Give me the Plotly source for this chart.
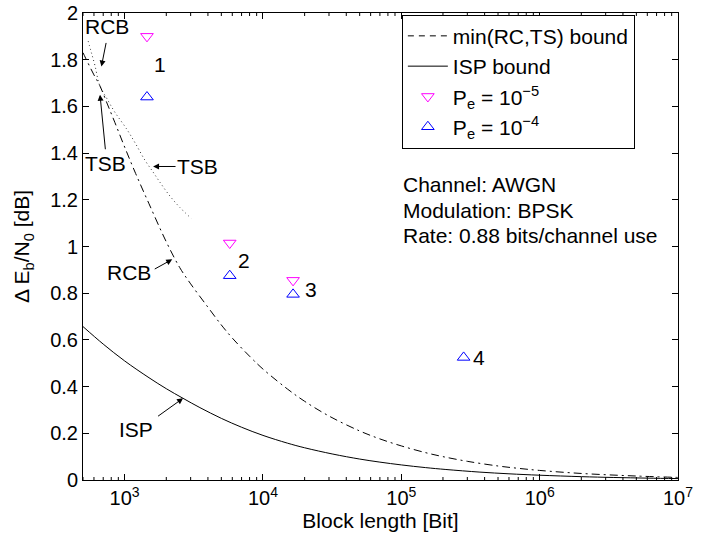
import numpy as np
import plotly.graph_objects as go

# ---------------- data ----------------
# min(RC,TS) bound (dash-dot)
n_min = [500, 522, 560, 600, 660, 750, 850, 1000, 1200, 1500, 2000, 2500, 3000, 4000,
         5000, 6000, 8000, 1e4, 1.5e4, 2e4, 3e4, 5e4, 7e4, 1e5, 1.5e5, 2e5, 3e5,
         5e5, 7e5, 1e6, 2e6, 5e6, 1e7]
db_min = [1.83, 1.807, 1.77, 1.735, 1.69, 1.61, 1.531, 1.426, 1.313, 1.183, 1.02, 0.91,
          0.84, 0.74, 0.664, 0.608, 0.53, 0.475, 0.39, 0.337, 0.274, 0.21, 0.176,
          0.146, 0.117, 0.10, 0.08, 0.06, 0.05, 0.041, 0.028, 0.017, 0.011]

# the larger of the two bounds (dotted), small block lengths only
n_max = [545, 575, 610, 660, 750, 850, 1029, 1200, 1400, 1600, 1800, 2100, 2500, 3033]
db_max = [1.88, 1.83, 1.775, 1.69, 1.63, 1.575, 1.505, 1.44, 1.37, 1.32, 1.275, 1.22,
          1.168, 1.12]

# ISP bound (solid)
n_isp = [500, 700, 1000, 1500, 2000, 2640, 3500, 5000, 7000, 1e4, 1.5e4, 2e4, 3.2e4,
         5e4, 7e4, 1e5, 1.5e5, 2.1e5, 3.7e5, 6e5, 1e6, 2e6, 3.4e6, 6e6, 1e7]
db_isp = [0.657, 0.582, 0.51, 0.438, 0.391, 0.35, 0.31, 0.264, 0.226, 0.191, 0.158, 0.138,
          0.111, 0.0897, 0.0766, 0.0646, 0.053, 0.045, 0.0338, 0.0265, 0.0205, 0.0143,
          0.0108, 0.008, 0.0061]

# simulated codes
n_pe5 = [1450, 5750, 16500]
db_pe5 = [1.90, 1.015, 0.855]
n_pe4 = [1450, 5750, 16500, 282000]
db_pe4 = [1.64, 0.875, 0.795, 0.525]
code_labels = ["1", "2", "3", "4"]
code_label_n = [1790, 7250, 22400, 365000]
code_label_db = [1.78, 0.94, 0.814, 0.526]

x_tickvals = [1e3, 1e4, 1e5, 1e6, 1e7]
x_ticktext = ["10<sup>3</sup>", "10<sup>4</sup>", "10<sup>5</sup>", "10<sup>6</sup>", "10<sup>7</sup>"]
x_minor = [k * 10 ** e for e in range(2, 7) for k in range(2, 10) if 500 <= k * 10 ** e <= 1e7]

FONT = "Liberation Sans, Arial, sans-serif"
FS = 21
TFS = 20
XRANGE = [np.log10(500), 7]

# ---------------- figure ----------------
fig = go.Figure()

fig.add_trace(go.Scatter(x=n_max, y=db_max, mode="lines", line_shape="spline",
                         line=dict(color="#333333", width=1, dash="1px,3px"),
                         showlegend=False, hoverinfo="skip"))
fig.add_trace(go.Scatter(x=n_min, y=db_min, mode="lines", line_shape="spline",
                         line=dict(color="black", width=1, dash="8px,4px,2px,4px"),
                         showlegend=False))
# legend entries
fig.add_trace(go.Scatter(x=[None], y=[None], mode="lines",
                         line=dict(color="black", width=1, dash="6px,5px"),
                         name="min(RC,TS) bound"))
fig.add_trace(go.Scatter(x=n_isp, y=db_isp, mode="lines", line_shape="spline",
                         line=dict(color="black", width=1),
                         name="ISP bound"))
fig.add_trace(go.Scatter(x=n_pe5, y=db_pe5, mode="markers",
                         marker=dict(symbol="triangle-down-open", size=11,
                                     color="#FF00FF", line=dict(width=1)),
                         name="P<sub>e</sub> = 10<sup>\u22125</sup>"))
fig.add_trace(go.Scatter(x=n_pe4, y=db_pe4, mode="markers",
                         marker=dict(symbol="triangle-up-open", size=11,
                                     color="#0000FF", line=dict(width=1)),
                         name="P<sub>e</sub> = 10<sup>\u22124</sup>"))

# plot-area geometry in pixels
L, R, T, B = 83.3, 678.0, 13.3, 480.0


def px(xp):
    return (xp - L) / (R - L)


def py(yp):
    return (B - yp) / (B - T)


# minor log ticks on bottom and top axis lines
shapes = []
for v in x_minor:
    xf = (np.log10(v) - XRANGE[0]) / (XRANGE[1] - XRANGE[0])
    for anchor, length in ((0, 3), (1, -3)):
        shapes.append(dict(type="line", xref="paper", yref="paper", x0=xf, x1=xf,
                           ysizemode="pixel", yanchor=anchor, y0=0, y1=length,
                           line=dict(color="black", width=1)))

ann = []
# code labels 1..4 (data coordinates)
for t, n, d in zip(code_labels, code_label_n, code_label_db):
    ann.append(dict(x=np.log10(n), y=d, xref="x", yref="y", text=t, showarrow=False,
                    font=dict(size=FS, color="black", family=FONT)))

# label texts (pixel positions)
labels = [("RCB", 107.5, 27), ("TSB", 105.5, 163.5), ("TSB", 197.5, 166.7),
          ("RCB", 129.5, 272.5), ("ISP", 136.7, 430)]
for t, xp, yp in labels:
    ann.append(dict(x=px(xp), y=py(yp), xref="paper", yref="paper", text=t,
                    showarrow=False, xanchor="center", yanchor="middle",
                    font=dict(size=FS, color="black", family=FONT)))

# arrows: (tip x, tip y, tail offset dx, dy) in pixels
arrows = [(101.7, 66.7, 5, -25), (100.3, 95, 5.5, 56), (153.3, 166.7, 24, 0),
          (172.5, 259.5, -19, 10.5), (183.3, 398.3, -26.5, 19)]
for xp, yp, dx, dy in arrows:
    ann.append(dict(x=px(xp), y=py(yp), xref="paper", yref="paper", text="",
                    showarrow=True, ax=dx, ay=dy, arrowhead=2, arrowsize=1.2,
                    arrowwidth=1, arrowcolor="black", standoff=0))

# info text block
info = ["Channel: AWGN", "Modulation: BPSK", "Rate: 0.88 bits/channel use"]
for i, t in enumerate(info):
    ann.append(dict(x=px(401), y=py(185 + 25.5 * i), xref="paper", yref="paper", text=t,
                    showarrow=False, xanchor="left", yanchor="middle",
                    font=dict(size=FS, color="black", family=FONT)))

fig.update_layout(
    width=710, height=537,
    margin=dict(l=83, r=32, t=13, b=57, autoexpand=False),
    paper_bgcolor="white", plot_bgcolor="white",
    font=dict(family=FONT, size=FS, color="black"),
    annotations=ann,
    shapes=shapes,
    legend=dict(x=px(402), y=py(15), xanchor="left", yanchor="top",
                bgcolor="white", bordercolor="black", borderwidth=1,
                font=dict(size=FS, family=FONT, color="black"),
                tracegroupgap=0, itemwidth=40),
    xaxis=dict(type="log", range=XRANGE, tickmode="array",
               tickvals=x_tickvals, ticktext=x_ticktext, ticks="inside", ticklen=6,
               tickcolor="black", showline=True, linecolor="black", linewidth=1,
               mirror="ticks", showgrid=False, zeroline=False, automargin=False,
               tickfont=dict(size=TFS, family=FONT),
               title=dict(text="Block length [Bit]", standoff=2,
                          font=dict(size=FS, family=FONT))),
    yaxis=dict(range=[0, 2], dtick=0.2, tick0=0, ticks="inside", ticklen=6,
               tickcolor="black", showline=True, linecolor="black", linewidth=1,
               mirror="ticks", showgrid=False, zeroline=False, automargin=False,
               tickfont=dict(size=TFS, family=FONT),
               title=dict(text="\u0394 E<sub>b</sub>/N<sub>0</sub> [dB]", standoff=14,
                          font=dict(size=FS, family=FONT))),
)

fig.write_html("out.html", config={"displayModeBar": False},
               post_script="document.body.style.margin='0px';")
